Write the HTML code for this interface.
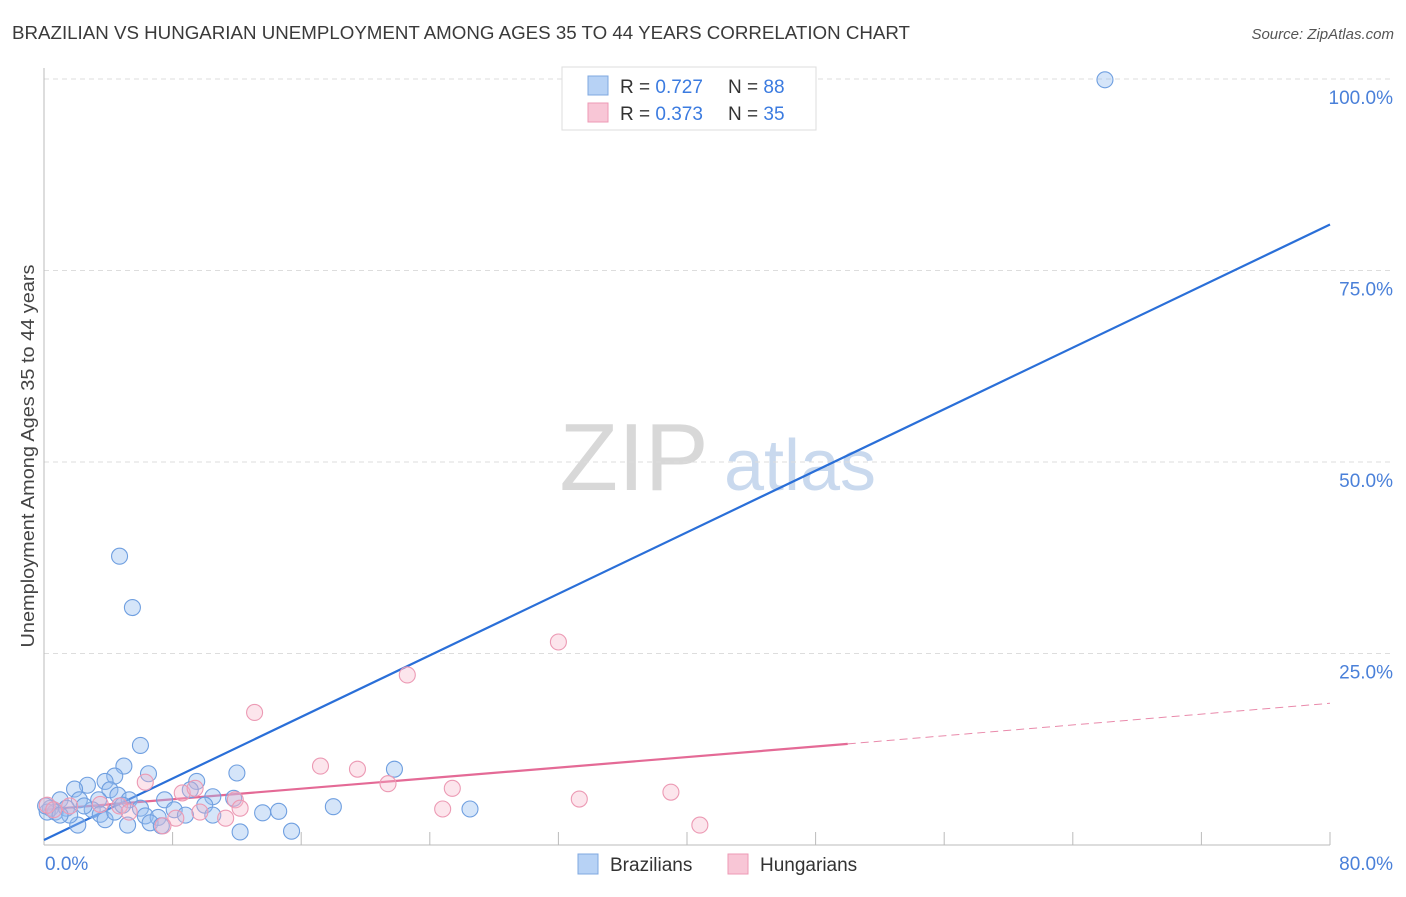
<!DOCTYPE html>
<html><head><meta charset="utf-8"><style>
body{margin:0;background:#fff;font-family:"Liberation Sans",sans-serif;}
svg text{font-family:"Liberation Sans",sans-serif;}
</style></head><body>
<svg id="chart" width="1406" height="892" xmlns="http://www.w3.org/2000/svg">
<text x="12" y="39" font-size="18" fill="#3a3a3a" textLength="898" lengthAdjust="spacingAndGlyphs">BRAZILIAN VS HUNGARIAN UNEMPLOYMENT AMONG AGES 35 TO 44 YEARS CORRELATION CHART</text>
<text x="1394" y="39" font-size="15" fill="#555" text-anchor="end" font-style="italic">Source: ZipAtlas.com</text>
<text transform="translate(34,456) rotate(-90)" font-size="18" fill="#444" text-anchor="middle" textLength="383" lengthAdjust="spacingAndGlyphs">Unemployment Among Ages 35 to 44 years</text>
<g>
<text x="634" y="490" font-size="96" fill="#d8d8d8" font-family="Liberation Serif,serif" text-anchor="middle">ZIP</text>
<text x="800" y="490" font-size="72" fill="#c9d9ee" text-anchor="middle">atlas</text>
</g>
<g id="grid"></g>
<g id="axes"></g>
<g id="lines"></g>
<g id="points"></g>
<g>
<rect x="562" y="67" width="254" height="63" fill="#fff" stroke="#ddd"/>
<rect x="588" y="76" width="20" height="19" fill="#b7d2f5" stroke="#7fa8e0"/>
<rect x="588" y="103" width="20" height="19" fill="#f8c6d6" stroke="#ee9ab5"/>
<text x="620" y="93" font-size="19" fill="#333">R = <tspan fill="#3b7be0">0.727</tspan></text>
<text x="728" y="93" font-size="19" fill="#333">N = <tspan fill="#3b7be0">88</tspan></text>
<text x="620" y="120" font-size="19" fill="#333">R = <tspan fill="#3b7be0">0.373</tspan></text>
<text x="728" y="120" font-size="19" fill="#333">N = <tspan fill="#3b7be0">35</tspan></text>
</g>
<g>
<rect x="578" y="854" width="20" height="20" fill="#b7d2f5" stroke="#7fa8e0"/>
<text x="610" y="871" font-size="19" fill="#333">Brazilians</text>
<rect x="728" y="854" width="20" height="20" fill="#f8c6d6" stroke="#ee9ab5"/>
<text x="760" y="871" font-size="19" fill="#333">Hungarians</text>
</g>
</svg>
<script>
const yTicks=[25,50,75,100];
const yTickLabels=["25.0%","50.0%","75.0%","100.0%"];
const xTickCount=10;
const blueX=[66,4.7,5.5,6.0,4.97,6.5,4.4,12,21.8,9.5,3.8,2.7,1.9,4.1,9.1,4.6,1.0,2.2,3.4,5.3,7.5,10.5,11.8,18,14.6,26.5,13.6,0.4,0.7,1.4,3,3.5,6,8.1,10,10.5,8.8,6.3,7.1,2.1,3.8,5.2,6.6,7.3,12.2,15.4,4.4,4.9,0.2,1.6,2.5,1.0,0.1];
const blueY=[99.9,37.7,31,13,10.3,9.3,9,9.4,9.9,8.3,8.3,7.8,7.3,7.2,7.2,6.5,5.9,5.9,5.9,5.9,5.9,6.3,6.1,5,4.4,4.7,4.2,4.8,4.3,4.8,4.6,4,4.8,4.6,5.2,3.9,3.9,3.8,3.6,2.6,3.3,2.6,2.9,2.5,1.7,1.8,4.3,5.2,4.3,3.9,5.1,3.9,5.1];
const pinkX=[32,22.6,13.1,17.2,19.5,21.4,25.4,39,33.3,24.8,40.8,6.3,8.6,9.4,11.9,8.2,7.4,11.3,0.2,0.6,1.6,3.5,4.7,9.7,12.2,5.3];
const pinkY=[26.5,22.2,17.3,10.3,9.9,8,7.4,6.9,6,4.7,2.6,8.2,6.8,7.4,5.9,3.5,2.5,3.5,5.2,4.6,5.1,5.3,5.1,4.3,4.8,4.3];
const blueLine=[[0,0.65],[80,81]];
const pinkLine=[[0,4.6],[50,13.2],[80,18.5]];
const NS="http://www.w3.org/2000/svg";
const X0=44,X1=1330,Y0=845,Y1=79;
const sx=v=>X0+(X1-X0)*v/80, sy=v=>Y0-(Y0-Y1)*v/100;
function mk(tag,attrs,parent){const e=document.createElementNS(NS,tag);for(const k in attrs)e.setAttribute(k,attrs[k]);document.getElementById(parent).appendChild(e);return e;}
yTicks.forEach((t,i)=>{
 const l=mk('line',{x1:X0,x2:1394,y1:sy(t),y2:sy(t),stroke:'#ddd','stroke-dasharray':'5,4'},'grid');
 
 
 const tx=mk('text',{x:1393,y:sy(t)+25,'font-size':19,fill:'#4a80d9','text-anchor':'end'},'grid');tx.textContent=yTickLabels[i];
 
 
});
const ax=mk('line',{x1:X0,x2:X0,y1:68,y2:Y0,stroke:'#bbb'},'axes');


const bx=mk('line',{x1:X0,x2:X1,y1:Y0,y2:Y0,stroke:'#bbb'},'axes');


for(let i=0;i<=xTickCount;i++){const t=mk('line',{x1:sx(i*8),x2:sx(i*8),y1:Y0-13,y2:Y0,stroke:'#bbb'},'axes');
 
 }
const xl=mk('text',{x:45,y:870,'font-size':19,fill:'#4a80d9'},'axes');xl.textContent='0.0%';


const xr=mk('text',{x:1393,y:870,'font-size':19,fill:'#4a80d9','text-anchor':'end'},'axes');xr.textContent='80.0%';


blueX.forEach((x,i)=>{const c=mk('circle',{cx:sx(x),cy:sy(blueY[i]),r:8,fill:'rgba(150,190,240,0.4)',stroke:'#6f9fe0','stroke-width':1.1},'points');
 
 });
pinkX.forEach((x,i)=>{const c=mk('circle',{cx:sx(x),cy:sy(pinkY[i]),r:8,fill:'rgba(245,180,200,0.35)',stroke:'#ec9ab4','stroke-width':1.1},'points');
 
 });
const bl=mk('line',{x1:sx(blueLine[0][0]),y1:sy(blueLine[0][1]),x2:sx(blueLine[1][0]),y2:sy(blueLine[1][1]),stroke:'#2a6fd8','stroke-width':2.2},'lines');


const pl=mk('line',{x1:sx(pinkLine[0][0]),y1:sy(pinkLine[0][1]),x2:sx(pinkLine[1][0]),y2:sy(pinkLine[1][1]),stroke:'#e46a96','stroke-width':2.2},'lines');


const pd=mk('line',{x1:sx(pinkLine[1][0]),y1:sy(pinkLine[1][1]),x2:sx(pinkLine[2][0]),y2:sy(pinkLine[2][1]),stroke:'#e98aab','stroke-width':1,'stroke-dasharray':'8,5'},'lines');


</script>
</body></html>
